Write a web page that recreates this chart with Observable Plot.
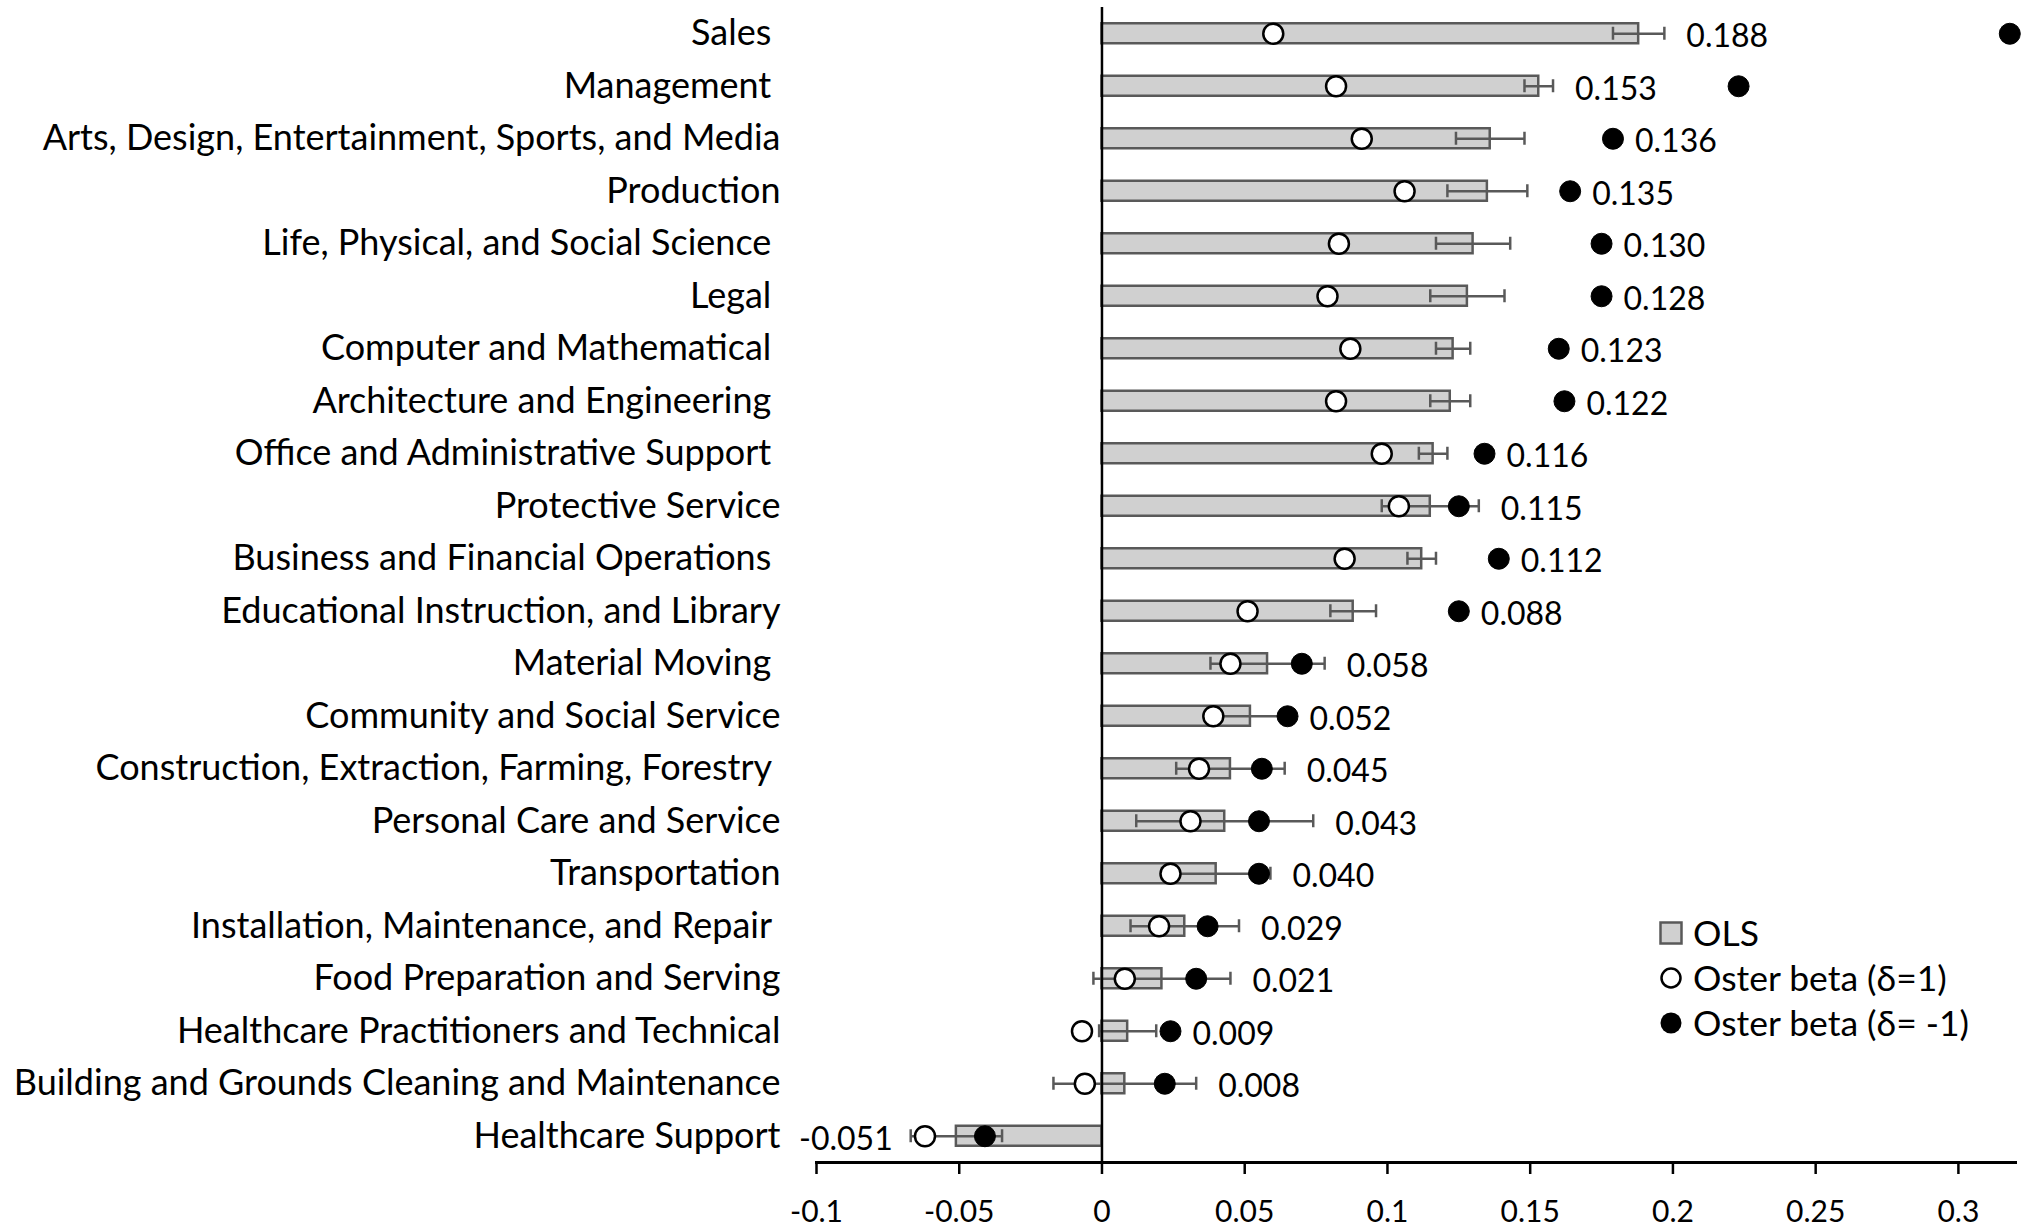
<!DOCTYPE html>
<html>
<head>
<meta charset="utf-8">
<script src="https://cdn.jsdelivr.net/npm/d3@7"></script>
<script src="https://cdn.jsdelivr.net/npm/@observablehq/plot@0.6"></script>
<style>
  body { margin: 0; background: #fff; }
  #chart { position: relative; width: 2031px; height: 1228px; font-family: Lato, sans-serif; }
  #chart svg text { white-space: pre; }
  .legend { position: absolute; left: 1659px; top: 910px; font-size: 35.5px; color: #000; }
  .legend .row { display: flex; align-items: center; height: 45px; }
  .legend svg { width: 24px; height: 24px; margin-right: 10px; }
</style>
</head>
<body>
<div id="chart"></div>
<script>
// Occupation categories, top to bottom
const categories = [
  "Sales ", "Management ", "Arts, Design, Entertainment, Sports, and Media", "Production",
  "Life, Physical, and Social Science ", "Legal ", "Computer and Mathematical ",
  "Architecture and Engineering ", "Office and Administrative Support ", "Protective Service",
  "Business and Financial Operations ", "Educational Instruction, and Library", "Material Moving ",
  "Community and Social Service", "Construction, Extraction, Farming, Forestry ",
  "Personal Care and Service", "Transportation", "Installation, Maintenance, and Repair ",
  "Food Preparation and Serving", "Healthcare Practitioners and Technical",
  "Building and Grounds Cleaning and Maintenance", "Healthcare Support"
];
// OLS coefficient and its error-bar half width
const ols = [0.188, 0.153, 0.136, 0.135, 0.130, 0.128, 0.123, 0.122, 0.116, 0.115, 0.112,
  0.088, 0.058, 0.052, 0.045, 0.043, 0.040, 0.029, 0.021, 0.009, 0.008, -0.051];
const olsErr = [0.009, 0.005, 0.012, 0.014, 0.013, 0.013, 0.006, 0.007, 0.005, 0.017, 0.005,
  0.008, 0.020, 0.013, 0.019, 0.031, 0.019, 0.019, 0.024, 0.010, 0.025, 0.016];
// Oster bounds
const osterDelta1 = [0.060, 0.082, 0.091, 0.106, 0.083, 0.079, 0.087, 0.082, 0.098, 0.104, 0.085,
  0.051, 0.045, 0.039, 0.034, 0.031, 0.024, 0.020, 0.008, -0.007, -0.006, -0.062];
const osterDeltaMinus1 = [0.318, 0.223, 0.179, 0.164, 0.175, 0.175, 0.160, 0.162, 0.134, 0.125, 0.139,
  0.125, 0.070, 0.065, 0.056, 0.055, 0.055, 0.037, 0.033, 0.024, 0.022, -0.041];
const xTicks = [-0.1, -0.05, 0, 0.05, 0.1, 0.15, 0.2, 0.25, 0.3];

const rows = categories.map((cat, i) => ({
  cat,
  ols: ols[i],
  lo: ols[i] - olsErr[i],
  hi: ols[i] + olsErr[i],
  pos: osterDelta1[i],
  neg: osterDeltaMinus1[i]
}));

// value label sits past the rightmost marker, unless that marker is far away
const labelRight = d => (d.neg - d.hi > 0.05 ? d.hi : Math.max(d.hi, d.neg));
const labelLeft = d => Math.min(d.lo, d.pos);

const VALUE_FONT = 32;
const TICK_FONT = 30;
const CAT_FONT = 36;
const barColor = "#d0d0d0";
const edge = "#595959";

const chart = Plot.plot({
  width: 2031,
  height: 1228,
  marginLeft: 816,
  marginRight: 16,
  marginTop: 7,
  marginBottom: 66,
  style: { fontFamily: "Lato, sans-serif", fontSize: VALUE_FONT + "px", color: "#000", background: "#fff" },
  x: { domain: [-0.1, 0.32] },
  y: { domain: categories, padding: 0, round: false },
  marks: [
    Plot.barX(rows, { x: "ols", y: "cat", fill: barColor, stroke: edge, strokeWidth: 2.5, insetTop: 16.25, insetBottom: 16.25 }),
    Plot.ruleY(rows, { y: "cat", x1: "lo", x2: "hi", stroke: edge, strokeWidth: 2.5 }),
    Plot.tickX(rows, { x: "lo", y: "cat", stroke: edge, strokeWidth: 2.5, insetTop: 19.75, insetBottom: 19.75 }),
    Plot.tickX(rows, { x: "hi", y: "cat", stroke: edge, strokeWidth: 2.5, insetTop: 19.75, insetBottom: 19.75 }),
    Plot.ruleX([0], { stroke: "#000", strokeWidth: 2.5 }),
    Plot.dot(rows, { x: "pos", y: "cat", r: 10, fill: "#fff", stroke: "#000", strokeWidth: 2.5 }),
    Plot.dot(rows, { x: "neg", y: "cat", r: 10.5, fill: "#000", stroke: "#000", strokeWidth: 1 }),
    Plot.text(rows.filter(d => d.ols >= 0), { x: labelRight, y: "cat", text: d => d.ols.toFixed(3), textAnchor: "start", dx: 22, dy: 3, fontSize: VALUE_FONT, fill: "#000" }),
    Plot.text(rows.filter(d => d.ols < 0), { x: labelLeft, y: "cat", text: d => d.ols.toFixed(3), textAnchor: "end", dx: -18, dy: 3, fontSize: VALUE_FONT, fill: "#000" }),
    Plot.axisY({ tickSize: 0, tickPadding: 36, fontSize: CAT_FONT, label: null }),
    Plot.axisX(xTicks, { tickSize: 12, tickPadding: 26, strokeWidth: 2.5, fontSize: TICK_FONT, tickFormat: d => String(d), label: null }),
    Plot.frame({ anchor: "bottom", stroke: "#000", strokeWidth: 3 })
  ]
});

const host = document.getElementById("chart");
host.appendChild(chart);

// legend placed over the lower right of the plot area
const legend = document.createElement("div");
legend.className = "legend";
legend.innerHTML = `
  <div class="row"><svg viewBox="0 0 24 24"><rect x="1.5" y="1.5" width="21" height="21" fill="${barColor}" stroke="${edge}" stroke-width="2.5"/></svg><span>OLS</span></div>
  <div class="row"><svg viewBox="0 0 24 24"><circle cx="12" cy="12" r="9.5" fill="#fff" stroke="#000" stroke-width="2.5"/></svg><span>Oster beta (δ=1)</span></div>
  <div class="row"><svg viewBox="0 0 24 24"><circle cx="12" cy="12" r="10.5" fill="#000"/></svg><span>Oster beta (δ= -1)</span></div>`;
host.appendChild(legend);
</script>
</body>
</html>
